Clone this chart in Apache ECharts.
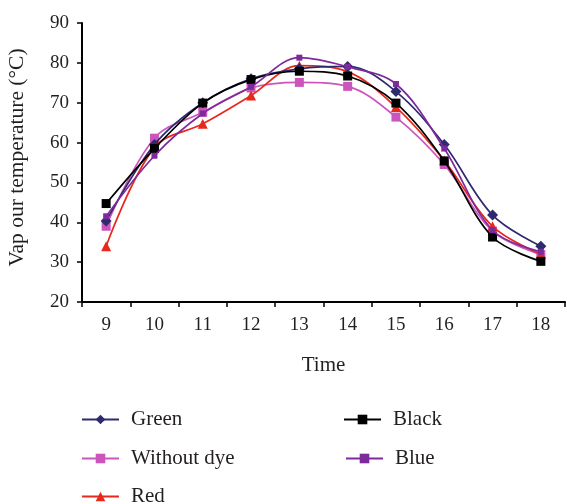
<!DOCTYPE html>
<html>
<head>
<meta charset="utf-8">
<script src="https://cdn.jsdelivr.net/npm/echarts@6/dist/echarts.min.js"></script>
<style>html,body{margin:0;padding:0;background:#fff}#c{width:567px;height:504px}</style>
</head>
<body>
<div id="c"></div>
<script>
const categories = ['9', '10', '11', '12', '13', '14', '15', '16', '17', '18'];
const green = [40.3, 59.5, 70, 76, 78.5, 79.1, 72.8, 59.5, 41.8, 34];
const withoutDye = [39, 61.1, 67.6, 73.7, 75.1, 74.1, 66.4, 54.5, 37.8, 31.9];
const red = [34, 58.8, 64.7, 71.8, 79.3, 77.8, 68.9, 55.5, 39, 32];
const black = [44.7, 58.5, 69.9, 75.8, 77.9, 76.7, 69.9, 55.4, 36.3, 30.2];
const blue = [41.5, 56.7, 67.3, 74, 81.3, 79, 74.7, 58.5, 38, 32.6];
const yTicks = { min: 20, max: 90, interval: 10 };

const FONT = '"Liberation Serif", serif';
const TXT = '#231f20';

function mk(name, data, color, symbol, size, z) {
  return {
    name, type: 'line', data, smooth: 0.35, z,
    symbol, symbolSize: size,
    lineStyle: { color, width: 1.7 },
    itemStyle: { color },
    emphasis: { disabled: true }
  };
}

function leg(name, left, top) {
  return {
    data: [name], left, top, itemWidth: 37, itemHeight: 12,
    textStyle: { fontFamily: FONT, fontSize: 21, color: TXT, lineHeight: 14, padding: [0, 0, 0, 7] },
    selectedMode: false
  };
}

const chart = echarts.init(document.getElementById('c'), null, { renderer: 'canvas' });
chart.setOption({
  animation: false,
  backgroundColor: '#fff',
  textStyle: { fontFamily: FONT, color: TXT },
  grid: { left: 82, right: 2, top: 23, bottom: 202, containLabel: false, outerBoundsMode: 'none' },
  xAxis: {
    type: 'category', data: categories, boundaryGap: true,
    name: 'Time', nameLocation: 'middle', nameGap: 53,
    nameTextStyle: { fontFamily: FONT, fontSize: 21, color: TXT },
    axisLine: { lineStyle: { color: '#000', width: 2 } },
    axisTick: { show: true, length: 5, lineStyle: { color: '#000', width: 1.5 } },
    axisLabel: { fontFamily: FONT, fontSize: 19, color: TXT, margin: 14 },
    splitLine: { show: false }
  },
  yAxis: {
    type: 'value', min: yTicks.min, max: yTicks.max, interval: yTicks.interval,
    name: 'Vap our temperature (°C)', nameLocation: 'middle', nameGap: 54,
    nameTextStyle: { fontFamily: FONT, fontSize: 21.5, color: TXT, padding: [0, 0, 0, 10] },
    axisLine: { show: true, lineStyle: { color: '#000', width: 2 } },
    axisTick: { show: true, length: 5, lineStyle: { color: '#000', width: 1.5 } },
    axisLabel: { fontFamily: FONT, fontSize: 19, color: TXT, margin: 13 },
    splitLine: { show: false }
  },
  legend: [
    leg('Green', 76, 404),
    leg('Without dye', 76, 443),
    leg('Red', 76, 481),
    leg('Black', 338, 404),
    leg('Blue', 340, 443)
  ],
  series: [
    mk('Green', green, '#2d2a70', 'diamond', 11, 5),
    mk('Without dye', withoutDye, '#cc55bb', 'rect', 9, 3),
    mk('Red', red, '#e8281c', 'triangle', 10, 4),
    mk('Black', black, '#000000', 'rect', 9, 6),
    mk('Blue', blue, '#7d2a9c', 'rect', 6, 7)
  ]
});
</script>
</body>
</html>
